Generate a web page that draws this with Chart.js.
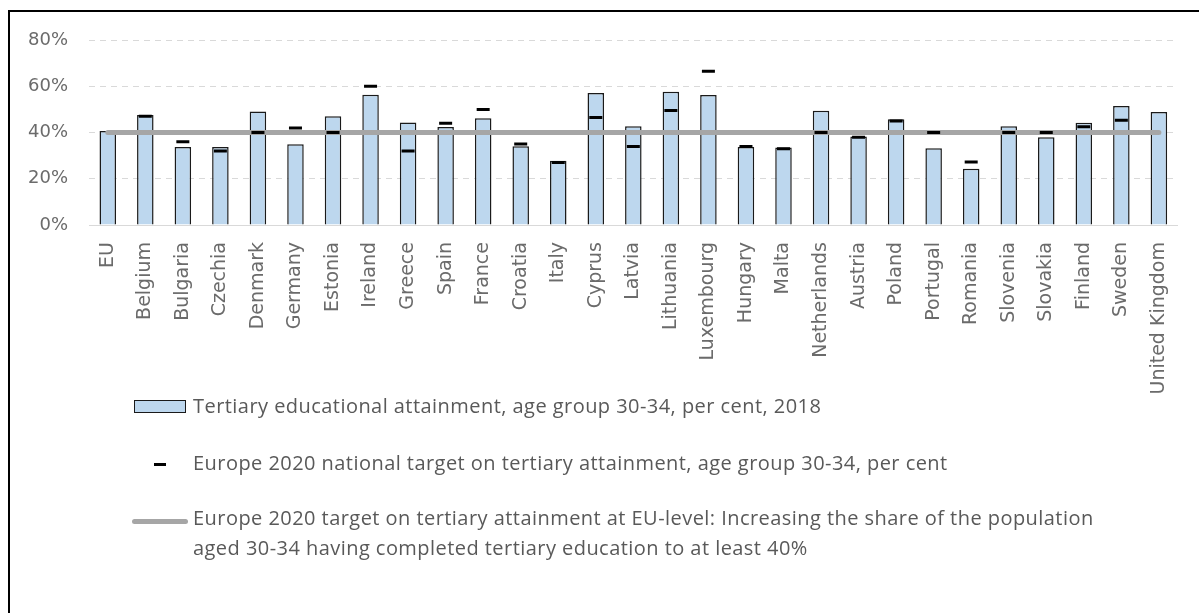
<!DOCTYPE html>
<html>
<head>
<meta charset="utf-8">
<script src="https://cdn.jsdelivr.net/npm/chart.js@4.4.1/dist/chart.umd.min.js"></script>
<style>
  html, body { margin:0; padding:0; background:#fff; }
  #wrap { position:relative; width:1199px; height:613px; overflow:hidden; }
  #frame { position:absolute; left:8px; top:10px; width:1300px; height:700px; border-top:2px solid #000; border-left:2px solid #000; }
  canvas { position:absolute; left:0; top:0; }
  .lg { position:absolute; font-family:"Open Sans", sans-serif; font-size:20px; letter-spacing:0.45px; color:#595959; line-height:30px; white-space:nowrap; }
  .sym { position:absolute; }
</style>
</head>
<body>
<div id="wrap">
  <div id="frame"></div>
  <canvas id="c" width="1199" height="613"></canvas>
  <div class="sym" style="left:134px;top:400px;width:50px;height:11px;background:#BDD7EE;border:1.5px solid #1a1a1a;"></div>
  <div class="lg" style="left:193px;top:391px;">Tertiary educational attainment, age group 30-34, per cent, 2018</div>
  <div class="sym" style="left:154px;top:463px;width:12px;height:3px;background:#000;"></div>
  <div class="lg" id="lg2" style="left:193px;top:448px;"></div>
  <div class="sym" style="left:132px;top:519px;width:56px;height:5px;background:#A6A6A6;border-radius:3px;"></div>
  <div class="lg" style="left:193px;top:503px;">Europe 2020 target on tertiary attainment at EU-level: Increasing the share of the population<br>aged 30-34 having completed tertiary education to at least 40%</div>
</div>
<script>
const categories = ['EU','Belgium','Bulgaria','Czechia','Denmark','Germany','Estonia','Ireland','Greece','Spain','France','Croatia','Italy','Cyprus','Latvia','Lithuania','Luxembourg','Hungary','Malta','Netherlands','Austria','Poland','Portugal','Romania','Slovenia','Slovakia','Finland','Sweden','United Kingdom'];
const attainment2018 = [40.7,47.6,33.7,33.7,49.1,34.9,47.0,56.3,44.3,42.4,46.2,34.1,27.8,57.1,42.7,57.6,56.2,33.7,33.5,49.4,38.3,45.7,33.2,24.3,42.7,37.9,44.2,51.5,48.9];
const nationalTarget = [null,47,36,32,40,42,40,60,32,44,50,35,27,46.5,34,49.5,66.5,34,33,40,38,45,40,27.2,40,40,42.5,45.3,null];
const euTarget = categories.map(() => 40);
const yTicks = [0,20,40,60,80];

document.getElementById('lg2').textContent = 'Europe 2020 national target on tertiary attainment, age group 30-34, per cent';

new Chart(document.getElementById('c'), {
  data: {
    labels: categories,
    datasets: [
      { type:'bar', label:'Tertiary educational attainment, age group 30-34, per cent, 2018', data: attainment2018,
        backgroundColor:'#BDD7EE', borderColor:'#1a1a1a', borderWidth:1.5, barPercentage:0.44, categoryPercentage:1, order:3 },
      { type:'line', label:'Europe 2020 target on tertiary attainment at EU-level', data: euTarget,
        borderColor:'#A6A6A6', borderWidth:5, pointRadius:0, borderCapStyle:'round', order:2 },
      { type:'line', label:'Europe 2020 national target on tertiary attainment, age group 30-34, per cent', data: nationalTarget,
        showLine:false, pointStyle:'line', pointRadius:6.5, pointBorderWidth:3, borderColor:'#000', backgroundColor:'#000', order:1 }
    ]
  },
  options: {
    responsive:false, animation:false,
    layout:{ padding:{ left:9, right:18, top:40, bottom:216 } },
    plugins:{ legend:{ display:false }, tooltip:{ enabled:false } },
    scales:{
      x:{
        grid:{ display:false, drawTicks:false },
        border:{ display:true, color:'#D9D9D9', width:1 },
        ticks:{ color:'#6b6b6b', font:{ family:'DejaVu Sans', size:19 }, minRotation:90, maxRotation:90, padding:17, autoSkip:false },
        afterFit:(s)=>{ s.height = 172; }
      },
      y:{
        min:0, max:80,
        afterBuildTicks:(s)=>{ s.ticks = yTicks.map(v=>({value:v})); },
        grid:{ color:'#D9D9D9', lineWidth:1, drawTicks:false },
        border:{ display:false, dash:(ctx)=> (ctx.tick && ctx.tick.value===0) ? [] : [6,5] },
        ticks:{ color:'#6b6b6b', font:{ family:'DejaVu Sans', size:18 }, padding:21, callback:(v)=> v + '%' },
        afterFit:(s)=>{ s.width = 80; }
      }
    }
  }
});
</script>
</body>
</html>
